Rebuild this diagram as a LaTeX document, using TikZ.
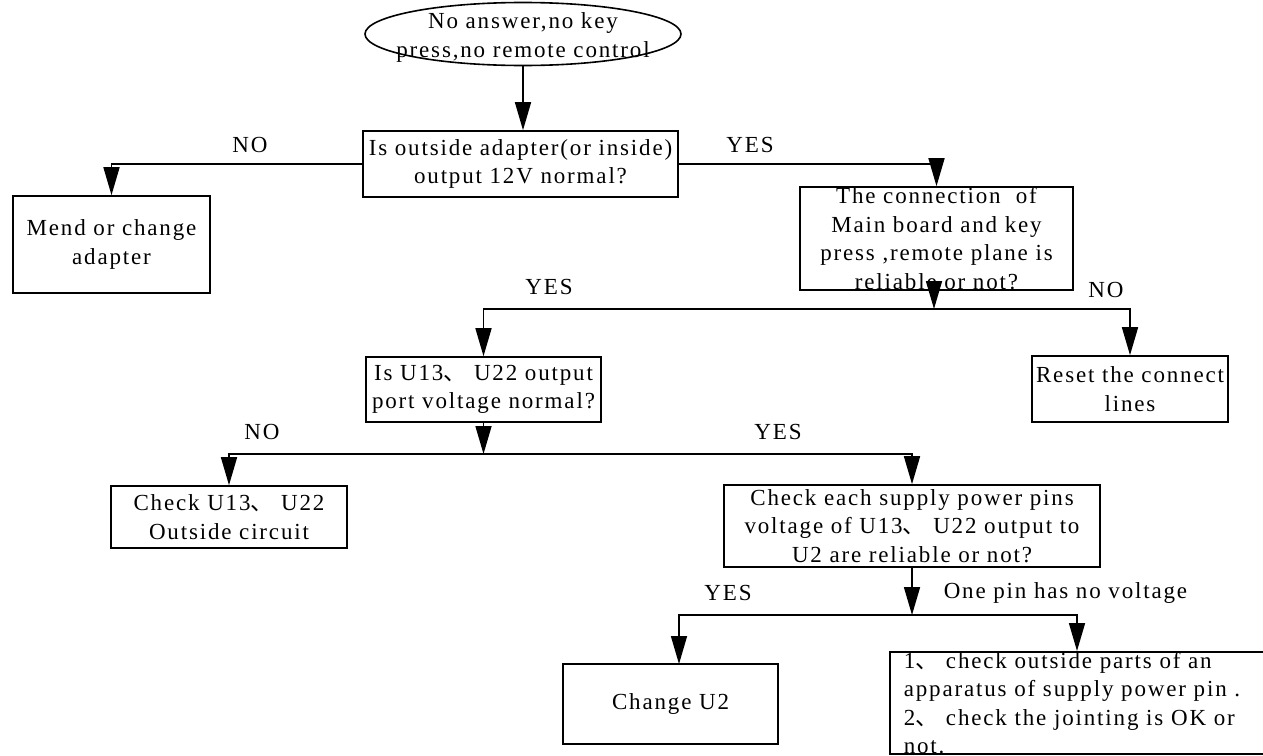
\documentclass[tikz,border=0pt]{standalone}
\usepackage{fontspec}
\setmainfont[LetterSpace=8]{Liberation Serif}
\newfontfamily\cjk{Noto Sans CJK SC}
\newcommand{\dun}{{\cjk 、}\ }
\usepackage{tikz}
\usetikzlibrary{arrows.meta,shapes,positioning,calc}

\begin{document}
\begin{tikzpicture}[x=1pt, y=1pt, line width=1.6pt,
    >={Triangle[length=28pt,width=16pt]},
    font=\fontsize{23}{28.5}\selectfont,
    box/.style={draw, rectangle, inner sep=0pt, align=center}]
    \path[use as bounding box, clip] (0,0) rectangle (1263,-755);

    \node[draw, ellipse, minimum width=316, minimum height=63, inner sep=0pt] (start) at (523,-34) {};
    \node[align=center, inner sep=0pt] (startlbl) at (523,-37.5) {No answer,no key\\press,no remote control};

    \node[box, minimum width=315, minimum height=66] (adapter) at (520.5,-164) {Is outside adapter(or inside)\\output 12V normal?};
    \node[box, minimum width=197, minimum height=97] (mend) at (111.5,-244.5) {Mend or change\\adapter};
    \node[box, minimum width=273, minimum height=103] (conn) at (936.5,-238.5) {The connection\ \ of\\Main board and key\\press ,remote plane is\\reliable or not?};
    \node[box, minimum width=196, minimum height=66] (reset) at (1130,-389) {Reset the connect\\lines};
    \node[box, minimum width=235, minimum height=65] (volt) at (483.5,-389.5) {Is U13\dun U22 output\\port voltage normal?};
    \node[box, minimum width=236, minimum height=62] (outer) at (229,-517) {Check U13\dun U22\\Outside circuit};
    \node[box, minimum width=376, minimum height=82] (pins) at (912,-526) {Check each supply power pins\\voltage of U13\dun U22 output to\\U2 are reliable or not?};
    \node[box, minimum width=215, minimum height=80] (change) at (670.5,-704) {Change U2};
    \node[draw, rectangle, anchor=north west, align=left, text width=380, inner xsep=14pt, inner ysep=0pt] (parts) at (889,-651)
        {1\dun check outside parts of an\\apparatus of supply power pin .\\2\dun check the jointing is OK or\\not.};

    % branch points
    \coordinate (j2) at (934,-309);
    \coordinate (j3) at (483.5,-454);
    \coordinate (j4) at (912,-615);
    \coordinate (u2in) at (679,-664);
    \coordinate (partsin) at (1077,-651);

    \draw[->] (start.south) -- (start.south |- adapter.north);
    \draw[->] (adapter.west) -| (mend.north);
    \draw[->] (adapter.east) -| (conn.north);
    \draw[->] (conn.south -| j2) -- (j2);
    \draw[->] (j2) -| (volt.north);
    \draw[->] (j2) -| (reset.north);
    \draw[->] (volt.south) -- (j3);
    \draw[->] (j3) -| (outer.north);
    \draw[->] (j3) -| (pins.north);
    \draw[->] (pins.south) -- (j4);
    \draw[->] (j4) -| (u2in);
    \draw[->] (j4) -| (partsin);

    \node (no1) at (250,-145) {NO};
    \node (yes1) at (750,-145) {YES};
    \node (yes2) at (549,-287) {YES};
    \node (no2) at (1106,-290) {NO};
    \node (no3) at (262,-432) {NO};
    \node (yes3) at (778,-432) {YES};
    \node (yes4) at (728,-593) {YES};
    \node[anchor=west, inner sep=0pt] (nopin) at (943,-593) {One pin has no voltage};
\end{tikzpicture}
\end{document}
